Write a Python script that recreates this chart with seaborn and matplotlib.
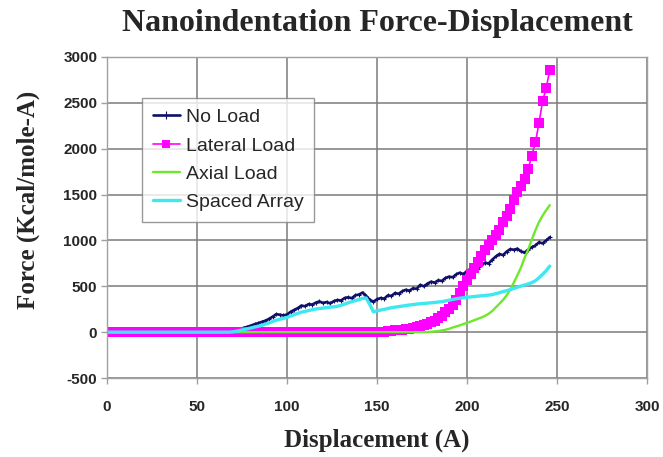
import matplotlib
matplotlib.use("Agg")
import matplotlib.pyplot as plt
import seaborn as sns
import pandas as pd

displacement = [0, 2, 4, 6, 8, 10, 12, 14, 16, 18, 20, 22, 24, 26, 28, 30, 32, 34, 36, 38,
                40, 42, 44, 46, 48, 50, 52, 54, 56, 58, 60, 62, 64, 66, 68, 70, 72, 74, 76, 78,
                80, 82, 84, 86, 88, 90, 92, 94, 96, 98, 100, 102, 104, 106, 108, 110, 112, 114, 116, 118,
                120, 122, 124, 126, 128, 130, 132, 134, 136, 138, 140, 142, 144, 146, 148, 150, 152, 154, 156, 158,
                160, 162, 164, 166, 168, 170, 172, 174, 176, 178, 180, 182, 184, 186, 188, 190, 192, 194, 196, 198,
                200, 202, 204, 206, 208, 210, 212, 214, 216, 218, 220, 222, 224, 226, 228, 230, 232, 234, 236, 238,
                240, 242, 244, 246]

no_load = [0, 0, 0, 0, 0, 0, 0, 0, 0, 0, 0, 0, 0, 0, 0, 0, 0, 0, 0, 0,
           0, 0, 0, 0, 0, 0, 0, 0, 0, 0, 0, 0, 0, 0, 5, 12, 22, 34, 48, 58,
           72, 86, 98, 112, 125, 145, 168, 196, 190, 182, 192, 222, 242, 262, 290, 282, 306, 300, 322, 335,
           318, 328, 314, 338, 350, 345, 372, 380, 370, 402, 410, 432, 395, 352, 333, 358, 372, 365, 400, 395,
           426, 418, 445, 462, 452, 478, 472, 515, 500, 528, 550, 540, 565, 558, 590, 605, 598, 630, 648, 632,
           668, 690, 702, 688, 730, 758, 748, 790, 825, 852, 840, 878, 905, 898, 910, 880, 868, 900, 926, 945,
           980, 968, 1000, 1035]

lateral_load = [0, 0, 0, 0, 0, 0, 0, 0, 0, 0, 0, 0, 0, 0, 0, 0, 0, 0, 0, 0,
                0, 0, 0, 0, 0, 0, 0, 0, 0, 0, 0, 0, 0, 0, 0, 0, 0, 0, 0, 0,
                0, 0, 0, 0, 0, 0, 0, 0, 0, 0, 0, 0, 0, 0, 0, 0, 0, 0, 0, 0,
                0, 0, 0, 0, 0, 0, 0, 0, 0, 0, 0, 0, 0, 0, 0, 3, 5, 7, 10, 14,
                18, 22, 26, 30, 36, 44, 54, 64, 76, 92, 108, 126, 150, 180, 215, 250, 295, 355, 425, 500,
                565, 635, 700, 760, 825, 895, 950, 1000, 1060, 1110, 1200, 1270, 1344, 1440, 1530, 1590, 1670, 1780, 1924, 2069,
                2280, 2520, 2660, 2860]

axial_load = [0, 0, 0, 0, 0, 0, 0, 0, 0, 0, 0, 0, 0, 0, 0, 0, 0, 0, 0, 0,
              0, 0, 0, 0, 0, 0, 0, 0, 0, 0, 0, 0, 0, 0, 0, 0, 0, 0, 0, 0,
              0, 0, 0, 0, 0, 0, 0, 0, 0, 0, 0, 0, 0, 0, 0, 0, 0, 0, 0, 0,
              0, 0, 0, 0, 0, 0, 0, 0, 0, 0, 0, 0, 0, 0, 0, 0, 0, 0, 0, 0,
              0, 0, 0, 0, 0, 0, 0, 0, 0, 0, 4, 8, 12, 18, 26, 36, 50, 62, 74, 88,
              102, 115, 130, 145, 160, 178, 200, 230, 270, 310, 350, 400, 463, 540, 620, 705, 810, 900, 1010, 1110,
              1200, 1270, 1330, 1385]

spaced_array = [0, 0, 0, 0, 0, 0, 0, 0, 0, 0, 0, 0, 0, 0, 0, 0, 0, 0, 0, 0,
                0, 0, 0, 0, 0, 0, 0, 0, 0, 0, 0, 0, 0, 0, 0, 4, 10, 18, 28, 36,
                46, 56, 64, 74, 88, 100, 116, 130, 140, 150, 160, 176, 190, 204, 218, 226, 236, 244, 252, 258,
                262, 268, 272, 276, 282, 292, 306, 320, 332, 344, 355, 368, 372, 300, 222, 232, 241, 248, 258, 266,
                272, 278, 284, 290, 296, 300, 306, 310, 313, 316, 320, 324, 328, 332, 340, 348, 356, 364, 370, 375,
                380, 384, 388, 392, 396, 400, 404, 408, 420, 430, 442, 452, 463, 476, 490, 502, 514, 525, 540, 560,
                593, 630, 670, 720]

series_names = ["No Load", "Lateral Load", "Axial Load", "Spaced Array"]
x_ticks = [0, 50, 100, 150, 200, 250, 300]
y_ticks = [-500, 0, 500, 1000, 1500, 2000, 2500, 3000]

sns.set_theme(style="white")
plt.rcParams["font.family"] = ["Liberation Sans", "DejaVu Sans"]

W, H = 663, 457
fig = plt.figure(figsize=(W / 100, H / 100), dpi=100)
ax = fig.add_axes([107 / W, 1 - 378 / H, 540 / W, 321 / H])

styles = {
    "No Load": dict(color="#10106a", lw=1.9, marker="+", ms=3, mew=0.8),
    "Lateral Load": dict(color="#FF00FF", lw=1.2, marker="s", ms=6.5, mew=0),
    "Axial Load": dict(color="#6EE82A", lw=1.7, marker=None),
    "Spaced Array": dict(color="#3DE8F2", lw=2.4, marker=None),
}
values = [no_load, lateral_load, axial_load, spaced_array]
for name, vals in zip(series_names, values):
    df = pd.DataFrame({"x": displacement, "y": vals})
    st = styles[name]
    kw = dict(color=st["color"], linewidth=st["lw"], label=name, estimator=None, ax=ax)
    if st.get("marker"):
        kw.update(marker=st["marker"], markersize=st["ms"], markeredgewidth=st["mew"],
                  markeredgecolor=st["color"])
    sns.lineplot(data=df, x="x", y="y", **kw)

ax.set_xlim(0, 300)
ax.set_ylim(-500, 3000)
ax.set_xticks(x_ticks)
ax.set_yticks(y_ticks)
ax.set_xticklabels([str(t) for t in x_ticks])
ax.set_yticklabels([str(t) for t in y_ticks])
ax.grid(True, color="#7a7a7a", linewidth=1.1)
ax.set_axisbelow(True)
for s in ax.spines.values():
    s.set_color("#a0a0a0")
    s.set_linewidth(1.0)
ax.tick_params(axis="both", which="major", length=4, width=1, color="#a0a0a0",
               labelsize=11, direction="out", bottom=True, left=True)
for lab in ax.get_xticklabels() + ax.get_yticklabels():
    lab.set_fontweight("bold")
ax.tick_params(axis="y", pad=3)
ax.tick_params(axis="x", pad=12)
ax.set_xlabel("")
ax.set_ylabel("")

fig.text(377 / W, 1 - 23 / H, "Nanoindentation Force-Displacement", ha="center", va="center",
         fontsize=23, fontweight="bold", family="Liberation Serif")
fig.text(377 / W, 1 - 440 / H, "Displacement (A)", ha="center", va="center",
         fontsize=18, fontweight="bold", family="Liberation Serif")
fig.text(28 / W, 1 - 200 / H, "Force (Kcal/mole-A)", ha="center", va="center", rotation=90,
         fontsize=18, fontweight="bold", family="Liberation Serif")

leg = ax.legend(loc="upper left", bbox_to_anchor=(142 / W, 1 - 98 / H), bbox_transform=fig.transFigure,
                frameon=True, fancybox=False, fontsize=14, handlelength=1.4, handletextpad=0.3,
                labelspacing=0.55, borderpad=0.55, borderaxespad=0)
leg.get_frame().set_edgecolor("#808080")
leg.get_frame().set_linewidth(1.0)
for h in leg.legend_handles:
    h.set_markersize(6)

fig.savefig("out.png", dpi=100, facecolor="white")
